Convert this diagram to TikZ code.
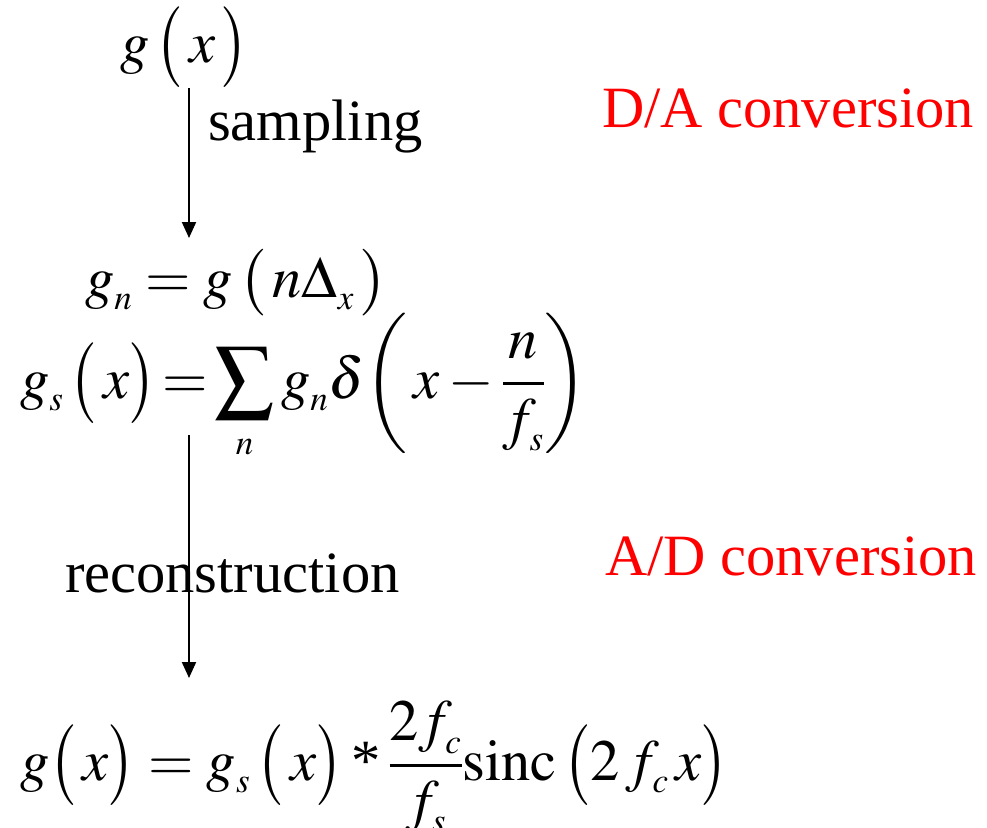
\documentclass[tikz,border=0pt]{standalone}
\usepackage{amsmath}
\usepackage{mathptmx}
\usepackage{graphicx}
\usepackage{fontspec}
\setmainfont{Liberation Serif}
\DeclareMathSizes{58.5}{58.5}{35}{27}
\usetikzlibrary{arrows.meta}
\newcommand{\PL}[1]{\mathopen{\vcenter{\hbox{\scalebox{1}[#1]{$\bigl($}}}}}
\newcommand{\PR}[1]{\mathclose{\vcenter{\hbox{\scalebox{1}[#1]{$\bigr)$}}}}}
\newcommand{\lsub}[1]{_{\raisebox{-4pt}{$\scriptstyle #1$}}}
\tikzset{
  txt/.style={anchor=base west, inner sep=0pt, outer sep=0pt, font=\fontsize{58.5}{70}\selectfont},
  redtxt/.style={txt, text=red},
  flow/.style={line width=2pt, -{Triangle[length=16pt,width=14pt]}}
}
\begin{document}
\begin{tikzpicture}[x=1pt,y=-1pt]
\useasboundingbox (0,0) rectangle (987,827);
% formulas
\node[txt] (gx) at (120,62) {$g\,\PL{1.15}\,x\,\PR{1.15}$};
\node[txt] (gn) at (85,297) {$g\lsub{n} = g\,\PL{0.95}\,n\Delta\lsub{x}\,\PR{0.95}$};
\node[txt] (gs) at (20,398) {$g\lsub{s}\,\PL{1.15}\,x\PR{1.15}\mkern-2mu=\mkern-2mu\displaystyle\sum_n g\lsub{n}\delta\biggl(\,x-\dfrac{n}{f\lsub{s}}\biggr)$};
\node[txt] (rec) at (20,780) {$g\PL{1.15}\,x\PR{1.15} = g\lsub{s}\,\PL{1.15}\,x\PR{1.15} \mathbin{\text{*}} \dfrac{2f\lsub{c}}{f\lsub{s}}\mathrm{sinc}\,\PL{1.15}2\,f\lsub{c}\,x\PR{1.15}$};
% labels
\node[txt] (samp) at (208,140) {sampling};
\node[txt] (recon) at (65,592) {reconstruction};
\node[redtxt] (da) at (602,127) {D/A conversion};
\node[redtxt] (ad) at (605,575) {A/D conversion};
% arrows
\coordinate (a1s) at (189,88);
\coordinate (a1e) at (189,238);
\coordinate (a2s) at (189,435);
\coordinate (a2e) at (189,678);
\draw[flow] (a1s) -- (a1e);
\draw[flow] (a2s) -- (a2e);
\end{tikzpicture}
\end{document}
